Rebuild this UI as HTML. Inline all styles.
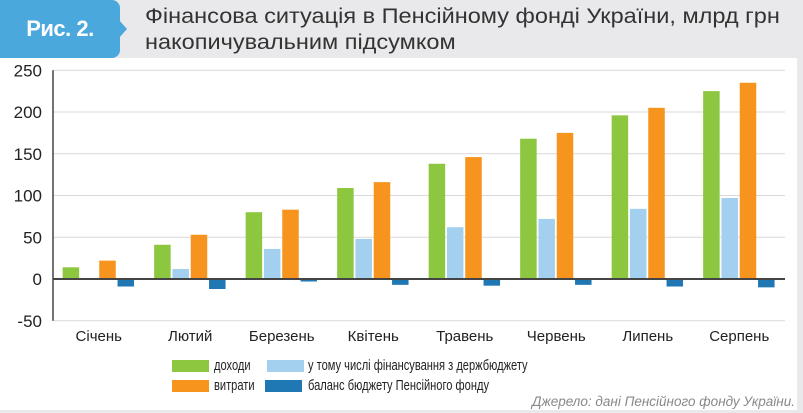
<!DOCTYPE html>
<html><head><meta charset="utf-8"><style>
body{margin:0;width:803px;height:413px;background:#fff;font-family:"Liberation Sans",sans-serif;position:relative;overflow:hidden}
.hdr{position:absolute;left:0;top:0;width:803px;height:58px;background:#e9e9eb}
.badge{position:absolute;left:0;top:0;width:120px;height:58px;background:#4ba8dd;border-top-right-radius:8px;border-bottom-right-radius:8px;color:#fff;font-weight:bold;font-size:22px;line-height:58px;text-align:center;letter-spacing:-0.5px}
.arrow{position:absolute;left:119px;top:20px;width:0;height:0;border-top:9px solid transparent;border-bottom:9px solid transparent;border-left:8px solid #4ba8dd}
.title{position:absolute;left:145px;top:4px;font-size:21px;line-height:26px;color:#333;white-space:nowrap;transform:scaleX(1.12);transform-origin:left}
.rstrip{position:absolute;left:797px;top:58px;width:6px;height:355px;background:#e9e9eb}
.bstrip{position:absolute;left:0;top:410px;width:803px;height:3px;background:#e9e9eb}
.leg{position:absolute;font-size:15px;color:#222;transform:scaleX(0.74);transform-origin:left;white-space:nowrap}
.sw{position:absolute;width:37px;height:12px}
.src{position:absolute;right:8px;top:394px;font-size:13.5px;font-style:italic;color:#888;white-space:nowrap}
</style></head><body>
<div class="hdr"></div>
<div class="badge">Рис. 2.</div>
<div class="arrow"></div>
<div class="title">Фінансова ситуація в Пенсійному фонді України, млрд грн<br>накопичувальним підсумком</div>
<div class="rstrip"></div>
<div class="bstrip"></div>
<svg id="chart" width="803" height="413" style="position:absolute;left:0;top:0"></svg>
<div class="sw" style="left:172px;top:360px;background:#8dc63f"></div>
<div class="leg" style="left:214px;top:357px">доходи</div>
<div class="sw" style="left:267px;top:360px;background:#a4d0f0"></div>
<div class="leg" style="left:308px;top:357px">у тому числі фінансування з держбюджету</div>
<div class="sw" style="left:172px;top:380px;background:#f7941e"></div>
<div class="leg" style="left:214px;top:377px">витрати</div>
<div class="sw" style="left:265px;top:380px;background:#1f77b4"></div>
<div class="leg" style="left:308px;top:377px">баланс бюджету Пенсійного фонду</div>
<div class="src">Джерело: дані Пенсійного фонду України.</div>
<script>
const categories=["Січень","Лютий","Березень","Квітень","Травень","Червень","Липень","Серпень"];
const income=[14,41,80,109,138,168,196,225];
const budget=[1,12,36,48,62,72,84,97];
const expenses=[22,53,83,116,146,175,205,235];
const balance=[-9,-12,-3,-7,-8,-7,-9,-10];
const yTicks=[250,200,150,100,50,0,-50];
const NS="http://www.w3.org/2000/svg";
const svg=document.getElementById('chart');
const L=53,R=785,Y0=279,PX=0.835;
const y=v=>Y0-v*PX;
const gw=(R-L)/categories.length;
function mk(t,a){const e=document.createElementNS(NS,t);for(const k in a)e.setAttribute(k,a[k]);svg.appendChild(e);return e;}
yTicks.forEach(t=>{
  if(t!==0){const g=mk('line',{x1:L,x2:R,y1:y(t),y2:y(t),stroke:'#d9d9d9','stroke-width':1});
  
  }
  const tx=mk('text',{x:42,y:y(t)+6,'text-anchor':'end','font-size':17,fill:'#222','font-family':'Liberation Sans'});
  tx.textContent=t;
  
  
});
const series=[[income,'#8dc63f','income'],[budget,'#a4d0f0','budget'],[expenses,'#f7941e','expenses'],[balance,'#1f77b4','balance']];
categories.forEach((c,i)=>{
  const cx=L+gw*(i+0.5);
  series.forEach((s,j)=>{
    const v=s[0][i];const x=cx-36.6+j*18.3+0.5;
    const r=mk('rect',{x:x,y:Math.min(y(v),Y0),width:16.5,height:Math.abs(v*PX),fill:s[1]});
    
    
  });
  const tx=mk('text',{x:cx,y:341,'text-anchor':'middle','font-size':15,fill:'#222','font-family':'Liberation Sans'});
  tx.textContent=c;
  
  
});
const ax=mk('line',{x1:L,x2:L,y1:y(250),y2:y(-50),stroke:'#444','stroke-width':1.5});


const zl=mk('line',{x1:L,x2:R,y1:Y0,y2:Y0,stroke:'#444','stroke-width':2});


</script>
</body></html>
